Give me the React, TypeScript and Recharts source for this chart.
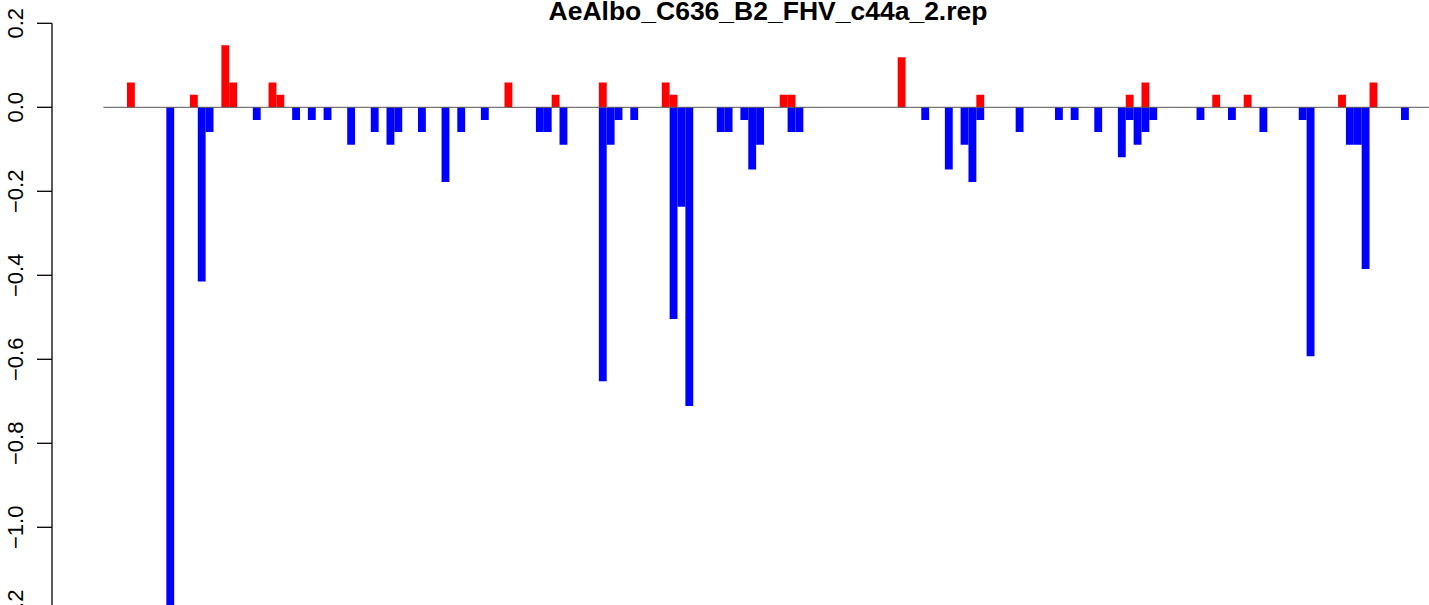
import React from 'react';
import { BarChart, Bar, XAxis, YAxis, ReferenceLine } from 'recharts';

const TITLE = 'AeAlbo_C636_B2_FHV_c44a_2.rep';

// slot index of each non-empty position along the sequence
const positions = [
  0, 5, 8, 9, 10, 12, 13, 16, 18, 19, 21, 23, 25, 28, 31, 33, 34, 37, 40, 42,
  45, 48, 52, 53, 54, 55, 60, 61, 62, 64, 68, 69, 70, 71, 75, 76, 78, 79, 80, 83,
  84, 85, 98, 101, 104, 106, 107, 108, 113, 118, 120, 123, 126, 127, 128, 129, 130, 136, 138, 140,
  142, 144, 149, 150, 154, 155, 156, 157, 158, 162,
];

// positive (red) part of each position
const upValues = [
  0.059, 0, 0.03, 0, 0, 0.148, 0.059, 0, 0.059, 0.03, 0, 0, 0, 0, 0, 0, 0, 0, 0, 0,
  0, 0.059, 0, 0, 0.03, 0, 0.059, 0, 0, 0, 0.059, 0.03, 0, 0, 0, 0, 0, 0, 0, 0.03,
  0.03, 0, 0.119, 0, 0, 0, 0, 0.03, 0, 0, 0, 0, 0, 0.03, 0, 0.059, 0, 0, 0.03, 0,
  0.03, 0, 0, 0, 0.03, 0, 0, 0, 0.059, 0,
];

// negative (blue) part of each position
const downValues = [
  0, -1.185, 0, -0.415, -0.059, 0, 0, -0.03, 0, 0, -0.03, -0.03, -0.03, -0.089, -0.059, -0.089, -0.059, -0.059, -0.178, -0.059,
  -0.03, 0, -0.059, -0.059, 0, -0.089, -0.652, -0.089, -0.03, -0.03, 0, -0.504, -0.237, -0.711, -0.059, -0.059, -0.03, -0.148, -0.089, 0,
  -0.059, -0.059, 0, -0.03, -0.148, -0.089, -0.178, -0.03, -0.059, -0.03, -0.03, -0.059, -0.119, -0.03, -0.089, -0.059, -0.03, -0.03, 0, -0.03,
  0, -0.059, -0.03, -0.593, 0, -0.089, -0.089, -0.385, 0, -0.03,
];

const yTicks = [0.2, 0, -0.2, -0.4, -0.6, -0.8, -1.0, -1.2];

const X_DOMAIN: [number, number] = [-10.037, 165.06];
const BASELINE_START = -3.5;

const data = positions.map((p, i) => ({ pos: p, up: upValues[i], down: downValues[i] }));

const FONT = '"Liberation Sans", Arial, Helvetica, sans-serif';

const YTick = (props: any) => {
  const { x, y, payload } = props;
  const lx = x - 12;
  return (
    <text
      x={lx}
      y={y}
      transform={`rotate(-90 ${lx} ${y})`}
      textAnchor="middle"
      fontFamily={FONT}
      fontSize={22}
      fill="#000"
    >
      {Number(payload.value).toFixed(1).replace('-', '\u2212')}
    </text>
  );
};

export default function App() {
  return (
    <div
      style={{
        position: 'absolute',
        left: 0,
        top: 0,
        width: 1429,
        height: 605,
        overflow: 'hidden',
        background: '#fff',
      }}
    >
      <div
        style={{
          position: 'absolute',
          left: 0,
          top: -2.4,
          width: 1536,
          textAlign: 'center',
          fontFamily: FONT,
          fontWeight: 'bold',
          fontSize: 26.5,
          lineHeight: '26.5px',
          color: '#000',
          whiteSpace: 'nowrap',
        }}
      >
        {TITLE}
      </div>
      <div style={{ position: 'absolute', left: 0, top: 0 }}>
        <BarChart
          width={1429}
          height={620}
          data={data}
          stackOffset="sign"
          barCategoryGap={0}
          barGap={0}
          margin={{ top: 23.3, right: 0, bottom: 8.7, left: 0 }}
        >
          <XAxis dataKey="pos" type="number" domain={X_DOMAIN} allowDataOverflow hide />
          <YAxis
            type="number"
            domain={[-1.2, 0.2]}
            ticks={yTicks}
            interval={0}
            width={52}
            tickSize={15}
            tick={<YTick />}
            axisLine={{ stroke: '#000', strokeWidth: 1.3 }}
            tickLine={{ stroke: '#000', strokeWidth: 1.3 }}
            allowDataOverflow
          />
          <Bar dataKey="up" stackId="s" fill="#FF0000" barSize={7.864} isAnimationActive={false} />
          <Bar dataKey="down" stackId="s" fill="#0000FF" barSize={7.864} isAnimationActive={false} />
          <ReferenceLine
            segment={[
              { x: BASELINE_START, y: 0 },
              { x: X_DOMAIN[1], y: 0 },
            ]}
            stroke="#555"
            strokeWidth={1}
            ifOverflow="visible"
          />
        </BarChart>
      </div>
    </div>
  );
}
